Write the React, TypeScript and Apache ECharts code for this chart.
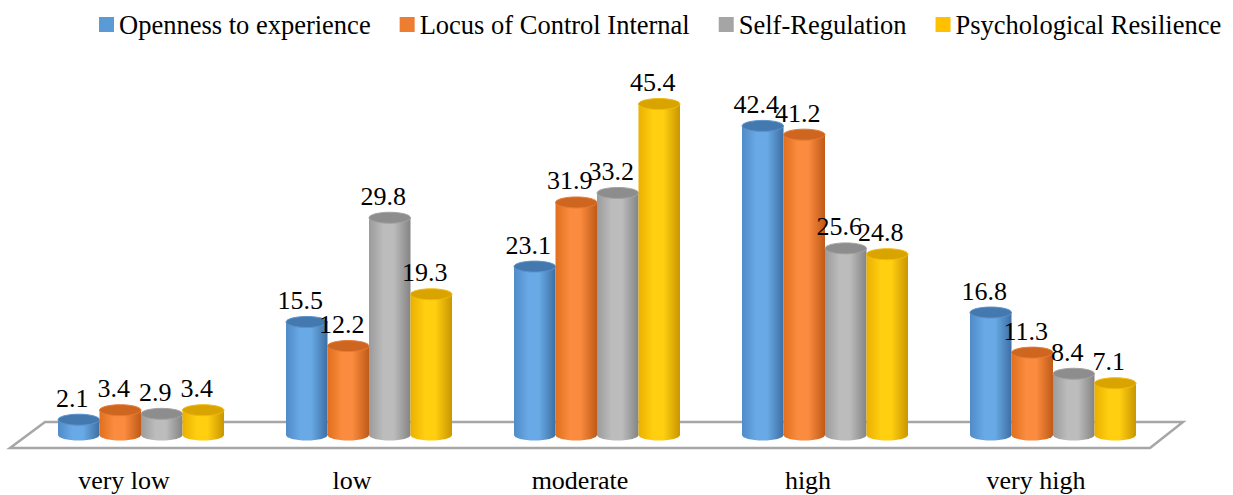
import React, { useEffect, useRef } from "react";
import * as echarts from "echarts";

const categories = ["very low", "low", "moderate", "high", "very high"];
const seriesNames = [
  "Openness to experience",
  "Locus of Control Internal",
  "Self-Regulation",
  "Psychological Resilience",
];
const openness = [2.1, 15.5, 23.1, 42.4, 16.8];
const locus = [3.4, 12.2, 31.9, 41.2, 11.3];
const selfRegulation = [2.9, 29.8, 33.2, 25.6, 8.4];
const resilience = [3.4, 19.3, 45.4, 24.8, 7.1];
const seriesValues = [openness, locus, selfRegulation, resilience];
const colors = ["#5b9bd5", "#ed7d31", "#a5a5a5", "#ffc000"];

const shades = [
  { l: "#4f8bc8", hi: "#69aae6", r: "#3d6fa3", top: "#4479b0", rim: "#5b93cc" },
  { l: "#e0701f", hi: "#fb8b3e", r: "#bf5a18", top: "#cf661f", rim: "#e57b35" },
  { l: "#9b9b9b", hi: "#bcbcbc", r: "#848484", top: "#8d8d8d", rim: "#a3a3a3" },
  { l: "#ebb000", hi: "#ffcf10", r: "#c99600", top: "#d9a400", rim: "#f0bb10" },
];

const FONT = "Liberation Serif";

export default function App() {
  const ref = useRef<HTMLDivElement>(null);
  useEffect(() => {
    if (!ref.current) return;
    const chart = echarts.init(ref.current, undefined, { renderer: "svg" });

    const renderItem = (params: any, api: any) => {
      const si = params.seriesIndex;
      const cat = api.value(0);
      const v = api.value(1);
      const top = api.coord([cat, v]);
      const base = api.coord([cat, 0]);
      const band = api.size([1, 0])[0];
      const w = band * 0.182;
      const cx = top[0] + (si - 1.5) * w;
      const rx = w / 2;
      const ry = 5.5;
      const s = shades[si];
      const body = new echarts.graphic.LinearGradient(0, 0, 1, 0, [
        { offset: 0, color: s.l },
        { offset: 0.35, color: s.hi },
        { offset: 0.6, color: s.hi },
        { offset: 1, color: s.r },
      ]);
      return {
        type: "group",
        children: [
          { type: "ellipse", shape: { cx, cy: base[1], rx, ry }, style: { fill: body } },
          {
            type: "rect",
            shape: { x: cx - rx, y: top[1], width: w, height: base[1] - top[1] },
            style: { fill: body },
          },
          {
            type: "ellipse",
            shape: { cx, cy: top[1], rx, ry },
            style: { fill: s.top, stroke: s.rim, lineWidth: 1 },
          },
          {
            type: "text",
            x: cx - 6.5,
            y: top[1] - ry - 3,
            style: {
              text: String(v),
              fill: "#000",
              fontSize: 26,
              fontFamily: FONT,
              align: "center",
              verticalAlign: "bottom",
            },
          },
        ],
      };
    };

    chart.setOption({
      animation: false,
      backgroundColor: "#ffffff",
      color: colors,
      legend: {
        top: 6,
        left: 94,
        icon: "rect",
        itemWidth: 15,
        itemHeight: 15,
        itemGap: 29,
        textStyle: { fontSize: 26.5, fontFamily: FONT, color: "#000" },
        data: seriesNames,
      },
      graphic: [
        {
          type: "polygon",
          z: 0,
          silent: true,
          shape: { points: [[10, 448], [1150, 448], [1183, 422], [45, 422]] },
          style: { fill: "#ffffff", stroke: "#a6a6a6", lineWidth: 2.5 },
        },
      ],
      grid: [
        { left: 27, width: 1140, top: 70.5, height: 364.5 },
        { left: 10, width: 1140, top: 70.5, height: 364.5 },
      ],
      xAxis: [
        { type: "category", data: categories, gridIndex: 0, show: false },
        {
          type: "category",
          data: categories,
          gridIndex: 1,
          axisLine: { show: false },
          axisTick: { show: false },
          axisLabel: { fontSize: 26, fontFamily: FONT, color: "#000", margin: 32 },
        },
      ],
      yAxis: [
        { type: "value", min: 0, max: 50, gridIndex: 0, show: false },
        { type: "value", min: 0, max: 50, gridIndex: 1, show: false },
      ],
      series: seriesNames.map((name, i) => ({
        name,
        type: "custom",
        xAxisIndex: 0,
        yAxisIndex: 0,
        z: 2,
        itemStyle: { color: colors[i] },
        renderItem,
        data: seriesValues[i].map((v, c) => [c, v]),
      })),
    });
    return () => chart.dispose();
  }, []);
  return (
    <div
      ref={ref}
      style={{ position: "fixed", left: 0, top: 0, width: 1233, height: 495 }}
    />
  );
}
